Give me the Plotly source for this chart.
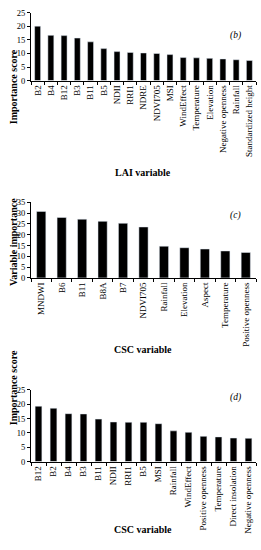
import plotly.graph_objects as go

W, H = 261, 550

lai_vars = ["B2", "B4", "B12", "B3", "B11", "B5", "NDII", "RRI1", "NDRE", "NDVI705", "MSI",
            "WindEffect", "Temperature", "Elevation", "Negative openness", "Rainfall",
            "Standardized height"]
lai_vals = [20.1, 16.7, 16.6, 15.7, 14.3, 11.8, 10.7, 10.4, 10.2, 10.0, 9.6, 8.5, 8.4, 8.2, 8.0, 7.7, 7.4]

csc_c_vars = ["MNDWI", "B6", "B11", "B8A", "B7", "NDVI705", "Rainfall", "Elevation", "Aspect",
              "Temperature", "Positive openness"]
csc_c_vals = [30.8, 28.0, 27.2, 26.2, 25.3, 23.6, 14.7, 14.0, 13.4, 12.5, 11.8]

csc_d_vars = ["B12", "B2", "B4", "B3", "B11", "NDII", "RRI1", "B5", "MSI", "Rainfall", "WindEffect",
              "Positive openness", "Temperature", "Direct insolation", "Negative openness"]
csc_d_vals = [19.3, 18.6, 16.7, 16.6, 14.8, 13.8, 13.7, 13.7, 13.2, 10.7, 10.2, 8.8, 8.6, 8.2, 8.1]

FONT = "Liberation Serif"

def py(p):
    return 1 - p / H

def px(p):
    return p / W

fig = go.Figure()

panels = [
    (lai_vars, lai_vals, (8, 77), [0, 25], 5, "Importance score", "LAI variable", 163, "(b)", 23, 43),
    (csc_c_vars, csc_c_vals, (201, 278), [0, 35], 5, "Variable importance", "CSC variable", 351, "(c)", 214, 242),
    (csc_d_vars, csc_d_vals, (392, 465), [0, 25], 5, "Importance score", "CSC variable", 542, "(d)", 407, 430),
]

annotations = []
for i, (cats, vals, (top, bot), yr, dt, ytitle, xtitle, xt_y, lab, lab_y, yt_y) in enumerate(panels):
    n = "" if i == 0 else str(i + 1)
    fig.add_trace(go.Bar(x=cats, y=vals, marker_color="black", width=0.45,
                         xaxis="x" + n, yaxis="y" + n, showlegend=False, hoverinfo="skip"))
    xa = dict(domain=[px(31), px(256)], anchor="y" + n, showline=True, linecolor="black", linewidth=1,
              ticks="outside", tickson="boundaries", ticklen=3, tickcolor="black", tickangle=-90,
              tickfont=dict(family=FONT, size=9, color="black"), showgrid=False, type="category",
              range=[-0.5, len(cats) - 0.5], fixedrange=True)
    ya = dict(domain=[py(bot), py(top)], anchor="x" + n, range=yr, dtick=dt, showline=True,
              linecolor="black", linewidth=1, ticks="outside", ticklen=3, tickcolor="black",
              tickfont=dict(family=FONT, size=8.5, color="black"), showgrid=False, zeroline=False,
              fixedrange=True)
    fig.update_layout(**{"xaxis" + n: xa, "yaxis" + n: ya})
    annotations.append(dict(x=px(6), y=py(yt_y), xref="paper", yref="paper",
                            text="<b>" + ytitle + "</b>", textangle=-90, showarrow=False,
                            font=dict(family=FONT, size=10, color="black")))
    annotations.append(dict(x=px(143), y=py(xt_y), xref="paper", yref="paper",
                            text="<b>" + xtitle + "</b>", showarrow=False,
                            font=dict(family=FONT, size=10, color="black")))
    annotations.append(dict(x=px(243), y=py(lab_y), xref="paper", yref="paper",
                            text="<i>" + lab + "</i>", showarrow=False,
                            font=dict(family=FONT, size=9.5, color="black")))

fig.update_layout(width=W, height=H, margin=dict(l=0, r=0, t=0, b=0),
                  paper_bgcolor="white", plot_bgcolor="white", annotations=annotations)

fig.write_html("out.html", config={"displayModeBar": False, "staticPlot": True},
               post_script="document.body.style.margin='0';document.body.style.overflow='hidden';")
